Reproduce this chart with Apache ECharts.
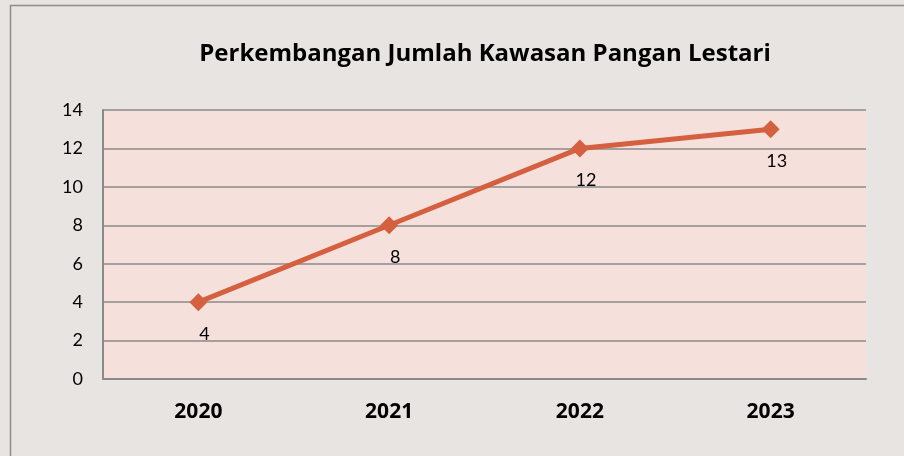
<!DOCTYPE html>
<html>
<head>
<meta charset="utf-8">
<script src="https://cdn.jsdelivr.net/npm/echarts@6/dist/echarts.min.js"></script>
<style>
  html, body { margin: 0; padding: 0; background: #e8e4e1; }
  #chart { width: 904px; height: 456px; }
</style>
</head>
<body>
<div id="chart"></div>
<script>
const years = ['2020', '2021', '2022', '2023'];
const jumlah = [4, 8, 12, 13];
const yTicks = [0, 2, 4, 6, 8, 10, 12, 14];

const chart = echarts.init(document.getElementById('chart'));

const option = {
  backgroundColor: '#e8e4e1',
  animation: false,
  title: {
    text: 'Perkembangan Jumlah Kawasan Pangan Lestari',
    left: 480,
    textAlign: 'center',
    top: 37,
    textStyle: { fontFamily: 'Open Sans', fontWeight: 'bold', fontSize: 24, color: '#000' }
  },
  graphic: [{
    type: 'rect',
    shape: { x: 10.5, y: 5.5, width: 960, height: 480 },
    style: { fill: 'none', stroke: '#8c8c8c', lineWidth: 1.5 },
    silent: true
  }],
  grid: {
    left: 103, top: 110, width: 763, height: 269,
    show: true, backgroundColor: '#f5e0dc', borderWidth: 0
  },
  xAxis: {
    type: 'category',
    data: years,
    boundaryGap: true,
    axisLine: { lineStyle: { color: '#8a8a8a', width: 2 } },
    axisTick: { show: false },
    axisLabel: { margin: 23, fontFamily: 'Open Sans', fontWeight: 'bold', fontSize: 21, color: '#000' }
  },
  yAxis: {
    type: 'value',
    min: yTicks[0],
    max: yTicks[yTicks.length - 1],
    interval: 2,
    axisLine: { show: true, lineStyle: { color: '#8a8a8a', width: 2 } },
    axisTick: { show: false },
    splitLine: { lineStyle: { color: '#8a8a8a', width: 1.5 } },
    axisLabel: { margin: 20, fontFamily: 'Lato', fontSize: 18, color: '#000' }
  },
  series: [{
    type: 'line',
    data: jumlah,
    symbol: 'diamond',
    symbolSize: 18,
    lineStyle: { color: '#d4603f', width: 5 },
    itemStyle: { color: '#d4603f' },
    label: {
      show: true,
      position: 'bottom',
      distance: 14,
      offset: [6, 0],
      fontFamily: 'Lato',
      fontSize: 18,
      color: '#000'
    }
  }]
};

chart.setOption(option);
</script>
</body>
</html>
